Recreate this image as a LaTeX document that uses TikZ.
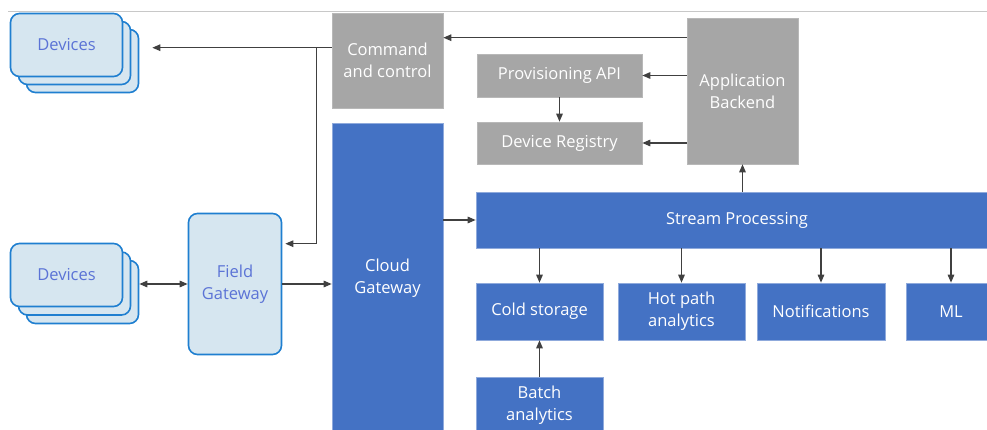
\documentclass[tikz,border=0pt]{standalone}
\usepackage{fontspec}
\setmainfont{Open Sans}
\usetikzlibrary{arrows.meta}
\definecolor{blu}{HTML}{4472C4}
\definecolor{bluedge}{HTML}{8FAADC}
\definecolor{gry}{HTML}{A6A6A6}
\definecolor{gryedge}{HTML}{B8B8B8}
\definecolor{devfill}{HTML}{D6E6F0}
\definecolor{devedge}{HTML}{1F7FD0}
\definecolor{devtext}{HTML}{5B73D6}
\definecolor{arrcol}{HTML}{404040}
\definecolor{topline}{HTML}{C8C8C8}
\begin{document}
\begin{tikzpicture}[x=1pt,y=-1pt,
  font=\fontsize{16.5}{22}\selectfont,
  base/.style={inner sep=0pt, align=center, text=white},
  graybox/.style={base, fill=gry, draw=gryedge, line width=0.6pt},
  bluebox/.style={base, fill=blu, draw=bluedge, line width=0.6pt},
  card/.style={rounded corners=9pt, fill=devfill, draw=devedge, line width=1.6pt,
    minimum width=112pt, minimum height=63pt, text=devtext, inner sep=0pt, align=center},
  arr/.style={draw=arrcol, line width=1.3pt, -{Triangle[length=8pt,width=6.5pt]}},
  arrtwo/.style={draw=arrcol, line width=1.3pt, {Triangle[length=8pt,width=6.5pt]}-{Triangle[length=8pt,width=6.5pt]}},
  plain/.style={draw=arrcol, line width=1.3pt}]
\useasboundingbox (0,0) rectangle (987,430);
\clip (0,0) rectangle (987,430);
\draw[topline, line width=0.8pt] (8,11) -- (987,11);

% devices (top)
\node[card] (dev1c) at (82.5,61) {};
\node[card] (dev1b) at (74.5,53) {};
\node[card] (dev1) at (66.5,45) {Devices};
% devices (bottom)
\node[card] (dev2c) at (82.5,292) {};
\node[card] (dev2b) at (74.5,283.5) {};
\node[card] (dev2) at (66.5,275) {Devices};
% field gateway
\node[card, minimum width=93pt, minimum height=141pt] (field) at (235,284) {Field\\Gateway};

% gray boxes
\node[graybox, minimum width=111pt, minimum height=95pt] (cmd) at (387.5,60.5) {Command\\and control};
\node[graybox, minimum width=165pt, minimum height=43pt] (prov) at (559.5,75.5) {Provisioning API};
\node[graybox, minimum width=165pt, minimum height=42pt] (reg) at (559.5,143) {Device Registry};
\node[graybox, minimum width=111pt, minimum height=146pt] (app) at (742.5,91) {Application\\Backend};

% blue boxes
\node[bluebox, minimum width=111pt, minimum height=310pt] (cloud) at (387.5,278) {Cloud\\Gateway};
\node[bluebox, minimum width=522pt, minimum height=56pt] (stream) at (737,220) {Stream Processing};
\node[bluebox, minimum width=127pt, minimum height=57pt] (cold) at (539.5,311.5) {Cold storage};
\node[bluebox, minimum width=127pt, minimum height=57pt] (hot) at (681.5,311.5) {Hot path\\analytics};
\node[bluebox, minimum width=128pt, minimum height=57pt] (notif) at (821,311.5) {Notifications};
\node[bluebox, minimum width=90pt, minimum height=57pt] (ml) at (951,311.5) {ML};
\node[bluebox, minimum width=127pt, minimum height=57pt] (batch) at (539.5,405.5) {Batch\\analytics};

% connectors
\coordinate (a1) at ([yshift=-20pt]app.north west);
\draw[arr] (a1) -- (a1 -| cmd.east);
\coordinate (c2) at ([yshift=-35pt]cmd.north west);
\coordinate (j) at ([xshift=-15pt]c2);
\draw[arr, shorten >=13pt] (c2) -- (c2 -| dev1c.east);
\coordinate (f1) at ([yshift=-31pt]field.north east);
\draw[arr, shorten >=3pt] (j) |- (f1);
\draw[arrtwo] (field.west) -- (field.west -| dev2c.east);
\draw[arr] (field.east) -- (field.east -| cloud.west);
\draw[arr] (stream.west -| cloud.east) -- (stream.west);
\draw[arr] (stream.north -| app.south) -- (app.south);
\draw[arr] (prov.east -| app.west) -- (prov.east);
\draw[arr] (reg.east -| app.west) -- (reg.east);
\draw[arr] (prov) -- (reg);
\draw[arr] (cold.north |- stream.south) -- (cold.north);
\draw[arr] (hot.north |- stream.south) -- (hot.north);
\draw[arr] (notif.north |- stream.south) -- (notif.north);
\draw[arr] (ml.north |- stream.south) -- (ml.north);
\draw[arr] (batch) -- (cold);
\end{tikzpicture}
\end{document}
